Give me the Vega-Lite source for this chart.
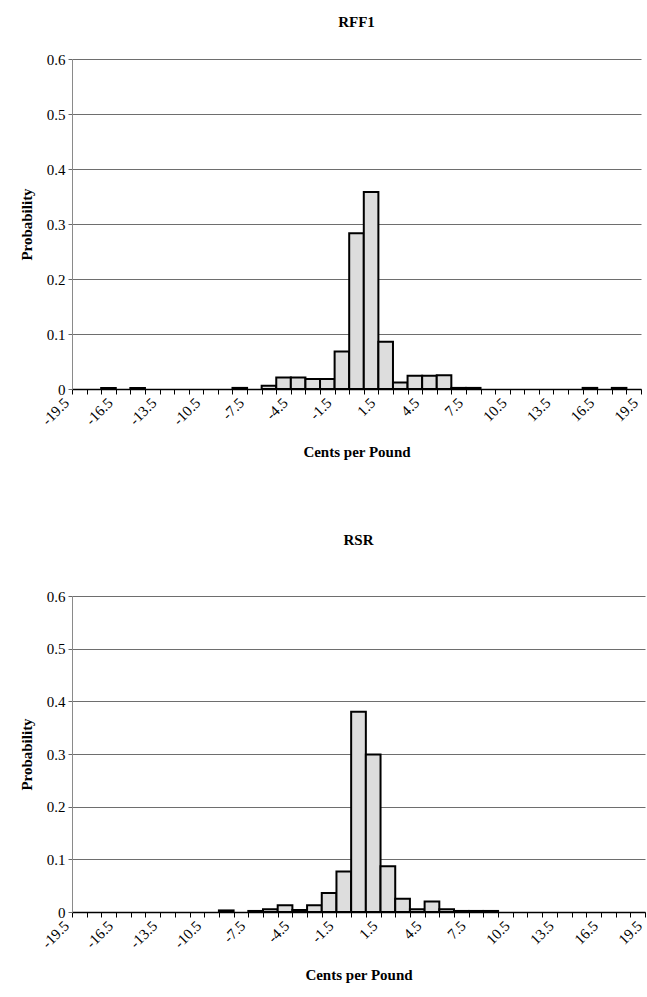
{
  "$schema": "https://vega.github.io/schema/vega-lite/v6.json",
  "background": "white",
  "padding": {"left": 19, "top": 15, "right": 2, "bottom": 0},
  "autosize": {"type": "pad"},
  "spacing": 73,
  "datasets": {
    "rff1": [
      {"start": -17.5, "end": -16.5, "p": 0.002},
      {"start": -15.5, "end": -14.5, "p": 0.002},
      {"start": -8.5, "end": -7.5, "p": 0.002},
      {"start": -6.5, "end": -5.5, "p": 0.006},
      {"start": -5.5, "end": -4.5, "p": 0.021},
      {"start": -4.5, "end": -3.5, "p": 0.021},
      {"start": -3.5, "end": -2.5, "p": 0.018},
      {"start": -2.5, "end": -1.5, "p": 0.018},
      {"start": -1.5, "end": -0.5, "p": 0.068},
      {"start": -0.5, "end": 0.5, "p": 0.283},
      {"start": 0.5, "end": 1.5, "p": 0.358},
      {"start": 1.5, "end": 2.5, "p": 0.086},
      {"start": 2.5, "end": 3.5, "p": 0.012},
      {"start": 3.5, "end": 4.5, "p": 0.024},
      {"start": 4.5, "end": 5.5, "p": 0.024},
      {"start": 5.5, "end": 6.5, "p": 0.025},
      {"start": 6.5, "end": 7.5, "p": 0.002},
      {"start": 7.5, "end": 8.5, "p": 0.002},
      {"start": 15.5, "end": 16.5, "p": 0.002},
      {"start": 17.5, "end": 18.5, "p": 0.002}
    ],
    "rsr": [
      {"start": -9.5, "end": -8.5, "p": 0.003},
      {"start": -7.5, "end": -6.5, "p": 0.002},
      {"start": -6.5, "end": -5.5, "p": 0.005},
      {"start": -5.5, "end": -4.5, "p": 0.013},
      {"start": -4.5, "end": -3.5, "p": 0.004},
      {"start": -3.5, "end": -2.5, "p": 0.013},
      {"start": -2.5, "end": -1.5, "p": 0.036},
      {"start": -1.5, "end": -0.5, "p": 0.077},
      {"start": -0.5, "end": 0.5, "p": 0.380},
      {"start": 0.5, "end": 1.5, "p": 0.299},
      {"start": 1.5, "end": 2.5, "p": 0.087},
      {"start": 2.5, "end": 3.5, "p": 0.025},
      {"start": 3.5, "end": 4.5, "p": 0.005},
      {"start": 4.5, "end": 5.5, "p": 0.020},
      {"start": 5.5, "end": 6.5, "p": 0.005},
      {"start": 6.5, "end": 7.5, "p": 0.002},
      {"start": 7.5, "end": 8.5, "p": 0.002},
      {"start": 8.5, "end": 9.5, "p": 0.002}
    ]
  },
  "config": {
    "font": "Liberation Serif",
    "view": {"stroke": null},
    "title": {"font": "Liberation Serif", "fontSize": 15, "fontWeight": "bold", "color": "black", "anchor": "middle"},
    "axis": {
      "labelFont": "Liberation Serif", "labelFontSize": 15, "labelColor": "black",
      "titleFont": "Liberation Serif", "titleFontSize": 15, "titleFontWeight": "bold", "titleColor": "black"
    },
    "axisX": {
      "labelAngle": -45, "labelAlign": "right", "labelBaseline": "middle",
      "labelOverlap": false, "labelBound": false, "labelFlush": false, "labelPadding": 6, "labelOffset": -6,
      "ticks": true, "tickSize": 5, "tickColor": "black", "tickWidth": 1,
      "domainColor": "black", "domainWidth": 1.5, "grid": false, "titlePadding": 17
    },
    "axisY": {
      "grid": true, "gridColor": "#6e6e6e", "gridWidth": 1,
      "domainColor": "#8a8a8a", "domainWidth": 1,
      "ticks": true, "tickSize": 4, "tickColor": "#666",
      "labelPadding": 3, "titlePadding": 12
    }
  },
  "vconcat": [
    {
      "width": 569, "height": 330,
      "title": {"text": "RFF1", "offset": 22},
      "data": {"name": "rff1"},
      "mark": {"type": "bar", "fill": "#dddddd", "stroke": "black", "strokeWidth": 2},
      "encoding": {
        "x": {"field": "start", "type": "quantitative", "scale": {"domain": [-19.5, 19.5], "nice": false, "zero": false},
          "axis": {"title": "Cents per Pound",
            "values": [-19.5,-18.5,-17.5,-16.5,-15.5,-14.5,-13.5,-12.5,-11.5,-10.5,-9.5,-8.5,-7.5,-6.5,-5.5,-4.5,-3.5,-2.5,-1.5,-0.5,0.5,1.5,2.5,3.5,4.5,5.5,6.5,7.5,8.5,9.5,10.5,11.5,12.5,13.5,14.5,15.5,16.5,17.5,18.5,19.5],
            "labelExpr": "((datum.value + 19.5) % 3 == 0) ? ((datum.value < 0 ? '-' : '') + format(abs(datum.value), '.1f')) : ''"}},
        "x2": {"field": "end"},
        "y": {"field": "p", "type": "quantitative", "scale": {"domain": [0, 0.6], "nice": false},
          "axis": {"title": "Probability", "values": [0, 0.1, 0.2, 0.3, 0.4, 0.5, 0.6],
            "labelExpr": "datum.value == 0 ? '0' : format(datum.value, '.1f')"}},
        "y2": {"datum": 0}
      }
    },
    {
      "width": 573, "height": 316,
      "title": {"text": "RSR", "offset": 41},
      "data": {"name": "rsr"},
      "mark": {"type": "bar", "fill": "#dddddd", "stroke": "black", "strokeWidth": 2},
      "encoding": {
        "x": {"field": "start", "type": "quantitative", "scale": {"domain": [-19.5, 19.5], "nice": false, "zero": false},
          "axis": {"title": "Cents per Pound",
            "values": [-19.5,-18.5,-17.5,-16.5,-15.5,-14.5,-13.5,-12.5,-11.5,-10.5,-9.5,-8.5,-7.5,-6.5,-5.5,-4.5,-3.5,-2.5,-1.5,-0.5,0.5,1.5,2.5,3.5,4.5,5.5,6.5,7.5,8.5,9.5,10.5,11.5,12.5,13.5,14.5,15.5,16.5,17.5,18.5,19.5],
            "labelExpr": "((datum.value + 19.5) % 3 == 0) ? ((datum.value < 0 ? '-' : '') + format(abs(datum.value), '.1f')) : ''"}},
        "x2": {"field": "end"},
        "y": {"field": "p", "type": "quantitative", "scale": {"domain": [0, 0.6], "nice": false},
          "axis": {"title": "Probability", "values": [0, 0.1, 0.2, 0.3, 0.4, 0.5, 0.6],
            "labelExpr": "datum.value == 0 ? '0' : format(datum.value, '.1f')"}},
        "y2": {"datum": 0}
      }
    }
  ]
}
